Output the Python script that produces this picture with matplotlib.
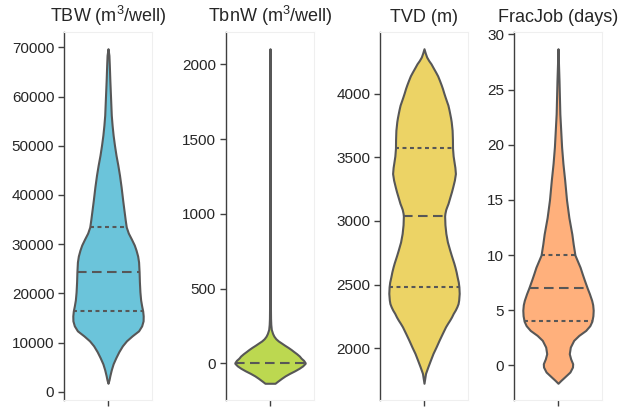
import numpy as np
import matplotlib
matplotlib.use("Agg")
import matplotlib.pyplot as plt

plt.rcParams["font.family"] = ["Liberation Sans", "DejaVu Sans"]
plt.rcParams["mathtext.fontset"] = "custom"
plt.rcParams["mathtext.rm"] = "Liberation Sans"
plt.rcParams["mathtext.it"] = "Liberation Sans:italic"
plt.rcParams["mathtext.default"] = "regular"

# Panel titles and fill colours
titles = ["TBW (m$^3$/well)", "TbnW (m$^3$/well)", "TVD (m)", "FracJob (days)"]
colors = ["#6BC4DA", "#BCD850", "#ECD365", "#FFB07C"]

# Kernel density profiles (value grid, relative density) for each variable
tbw_y = [1720, 2430, 3250, 4460, 5680, 6900, 8120, 9330, 10350, 11360, 12380,
         13390, 14410, 15420, 16430, 17450, 18670, 20290, 22320, 24350, 26380,
         27590, 28810, 29830, 31040, 32260, 33480, 34900, 36520, 38960, 41600,
         44030, 46060, 48090, 50120, 52150, 54170, 56200, 59250, 63300, 66350,
         68380, 69740]
tbw_d = [0, 1.0, 1.8, 3.2, 5.0, 7.6, 10.5, 14.0, 18.0, 23.5, 29.8,
         32.8, 34.2, 34.3, 33.8, 32.8, 31.8, 31.1, 30.6, 30.3, 29.8,
         28.9, 27.3, 25.6, 22.8, 19.8, 17.8, 16.8, 15.8, 14.3, 12.8,
         11.2, 9.6, 7.8, 6.3, 5.0, 4.0, 3.2, 2.6, 1.8, 1.3,
         0.9, 0]

tbnw_y = [-133, -120, -100, -84, -67, -50, -33, -17, 0, 4, 20, 35, 49, 65, 80,
          93, 107, 122, 138, 150, 165, 182, 200, 227, 260, 300, 400, 600, 900,
          1200, 1300, 1500, 1800, 2105]
tbnw_d = [5.0, 7.5, 11.5, 15.0, 19.5, 24.5, 29.0, 32.5, 35.0, 35.1, 33.5, 31.0, 29.3, 26.5, 23.5,
          21.0, 18.0, 14.5, 11.0, 8.3, 5.8, 3.9, 2.6, 1.3, 0.8, 0.55, 0.4, 0.3, 0.25,
          0.3, 0.3, 0.2, 0.15, 0]

tvd_y = [1724, 1802, 1854, 1905, 1959, 2010, 2064, 2115, 2168, 2195, 2220, 2245,
         2273, 2300, 2325, 2350, 2378, 2430, 2482, 2520, 2560, 2600, 2639, 2670,
         2700, 2730, 2770, 2835, 2901, 2970, 3039, 3060, 3090, 3110, 3137, 3170,
         3200, 3230, 3267, 3320, 3372, 3420, 3451, 3510, 3571, 3640, 3712, 3780,
         3810, 3843, 3875, 3910, 3940, 3973, 4005, 4040, 4070, 4104, 4140, 4170,
         4200, 4235, 4260, 4288, 4320, 4353]
tvd_d = [0, 1.5, 3.8, 6.2, 8.8, 11.8, 14.8, 17.8, 21.0, 23.0, 25.0, 26.8,
         28.5, 30.5, 32.0, 33.2, 33.8, 34.3, 34.0, 33.4, 32.3, 31.3, 30.1, 29.0,
         27.8, 26.6, 25.1, 22.8, 21.3, 20.4, 20.1, 20.4, 21.2, 22.1, 23.4, 24.6,
         25.7, 26.8, 28.0, 29.6, 30.6, 30.1, 29.5, 28.4, 27.8, 27.7, 27.4, 26.5,
         25.9, 25.1, 24.3, 23.3, 22.0, 20.6, 19.3, 18.0, 16.7, 15.1, 13.3, 11.3,
         9.2, 6.8, 4.6, 2.6, 1.2, 0]

frac_y = [-1.62, -1.36, -1.06, -0.6, -0.15, 0.15, 0.6, 1.06, 1.66, 2.27, 2.72,
          3.17, 3.6, 4.0, 4.5, 5.0, 5.5, 5.9, 6.5, 7.0, 7.7, 8.3, 8.9, 10.0,
          11.0, 11.9, 13.4, 15.0, 16.8, 18.3, 19.8, 22.8, 25.8, 28.7]
frac_d = [0, 2.8, 6.3, 11.6, 14.1, 14.3, 12.3, 11.0, 12.0, 15.3, 20.3,
          27.0, 31.0, 33.0, 34.0, 34.3, 33.8, 32.8, 30.6, 28.5, 25.8, 23.6, 21.5, 16.5,
          14.8, 13.5, 10.6, 8.3, 6.5, 4.8, 3.5, 1.8, 1.0, 0]

# Quartiles (Q1, median, Q3)
tbw_q = [16500, 24300, 33500]
tbnw_q = [0, 0, 0]
tvd_q = [2482, 3039, 3571]
frac_q = [4.0, 7.0, 10.0]

profiles = [(tbw_y, tbw_d, tbw_q), (tbnw_y, tbnw_d, tbnw_q),
            (tvd_y, tvd_d, tvd_q), (frac_y, frac_d, frac_q)]

W, H = 620, 407
fig = plt.figure(figsize=(W / 100, H / 100), dpi=100)
lefts = [64, 226, 380, 514]
ax_w = 88
top, bottom = 32, 400

line_color = "#575757"
spine_color = "#3f3f3f"
text_color = "#262626"
violin_width = 0.8

for left, title, color, (ys, ds, qs) in zip(lefts, titles, colors, profiles):
    ax = fig.add_axes([left / W, 1 - bottom / H, ax_w / W, (bottom - top) / H])
    ys = np.asarray(ys, float)
    ds = np.asarray(ds, float)
    stats = dict(coords=ys, vals=ds, mean=np.nan, median=qs[1],
                 min=ys[0], max=ys[-1])
    parts = ax.violin([stats], positions=[0], widths=violin_width,
                      showmeans=False, showextrema=False, showmedians=False)
    for body in parts["bodies"]:
        body.set_facecolor(color)
        body.set_edgecolor(line_color)
        body.set_linewidth(1.5)
        body.set_alpha(1)
        body.set_joinstyle("round")
        body.set_zorder(2)

    # Inner quartile lines spanning the density at each quartile
    scale = (violin_width / 2) / ds.max()
    for i, q in enumerate(qs):
        if i != 1 and q == qs[1]:
            continue
        hw = np.interp(q, ys, ds) * scale
        dashes = (4.6, 2.6) if i == 1 else (1.9, 1.7)
        ax.plot([-hw, hw], [q, q], color=line_color, lw=1.5,
                dashes=dashes, zorder=3, dash_capstyle="butt")

    ax.set_xlim(-0.5, 0.5)
    ax.set_xticks([0])
    ax.set_xticklabels([""])
    ax.tick_params(axis="x", length=4, width=1, color=spine_color, direction="out")
    ax.tick_params(axis="y", length=4, width=1, color=spine_color, pad=3,
                   labelsize=11, labelcolor=text_color, direction="out")
    for side in ("top", "right", "bottom"):
        ax.spines[side].set_color("#efefef")
        ax.spines[side].set_linewidth(0.8)
    ax.spines["left"].set_color(spine_color)
    ax.spines["left"].set_linewidth(1.0)
    ax.set_title(title, fontsize=13, color=text_color, pad=7)

fig.savefig("out.png", dpi=100)
